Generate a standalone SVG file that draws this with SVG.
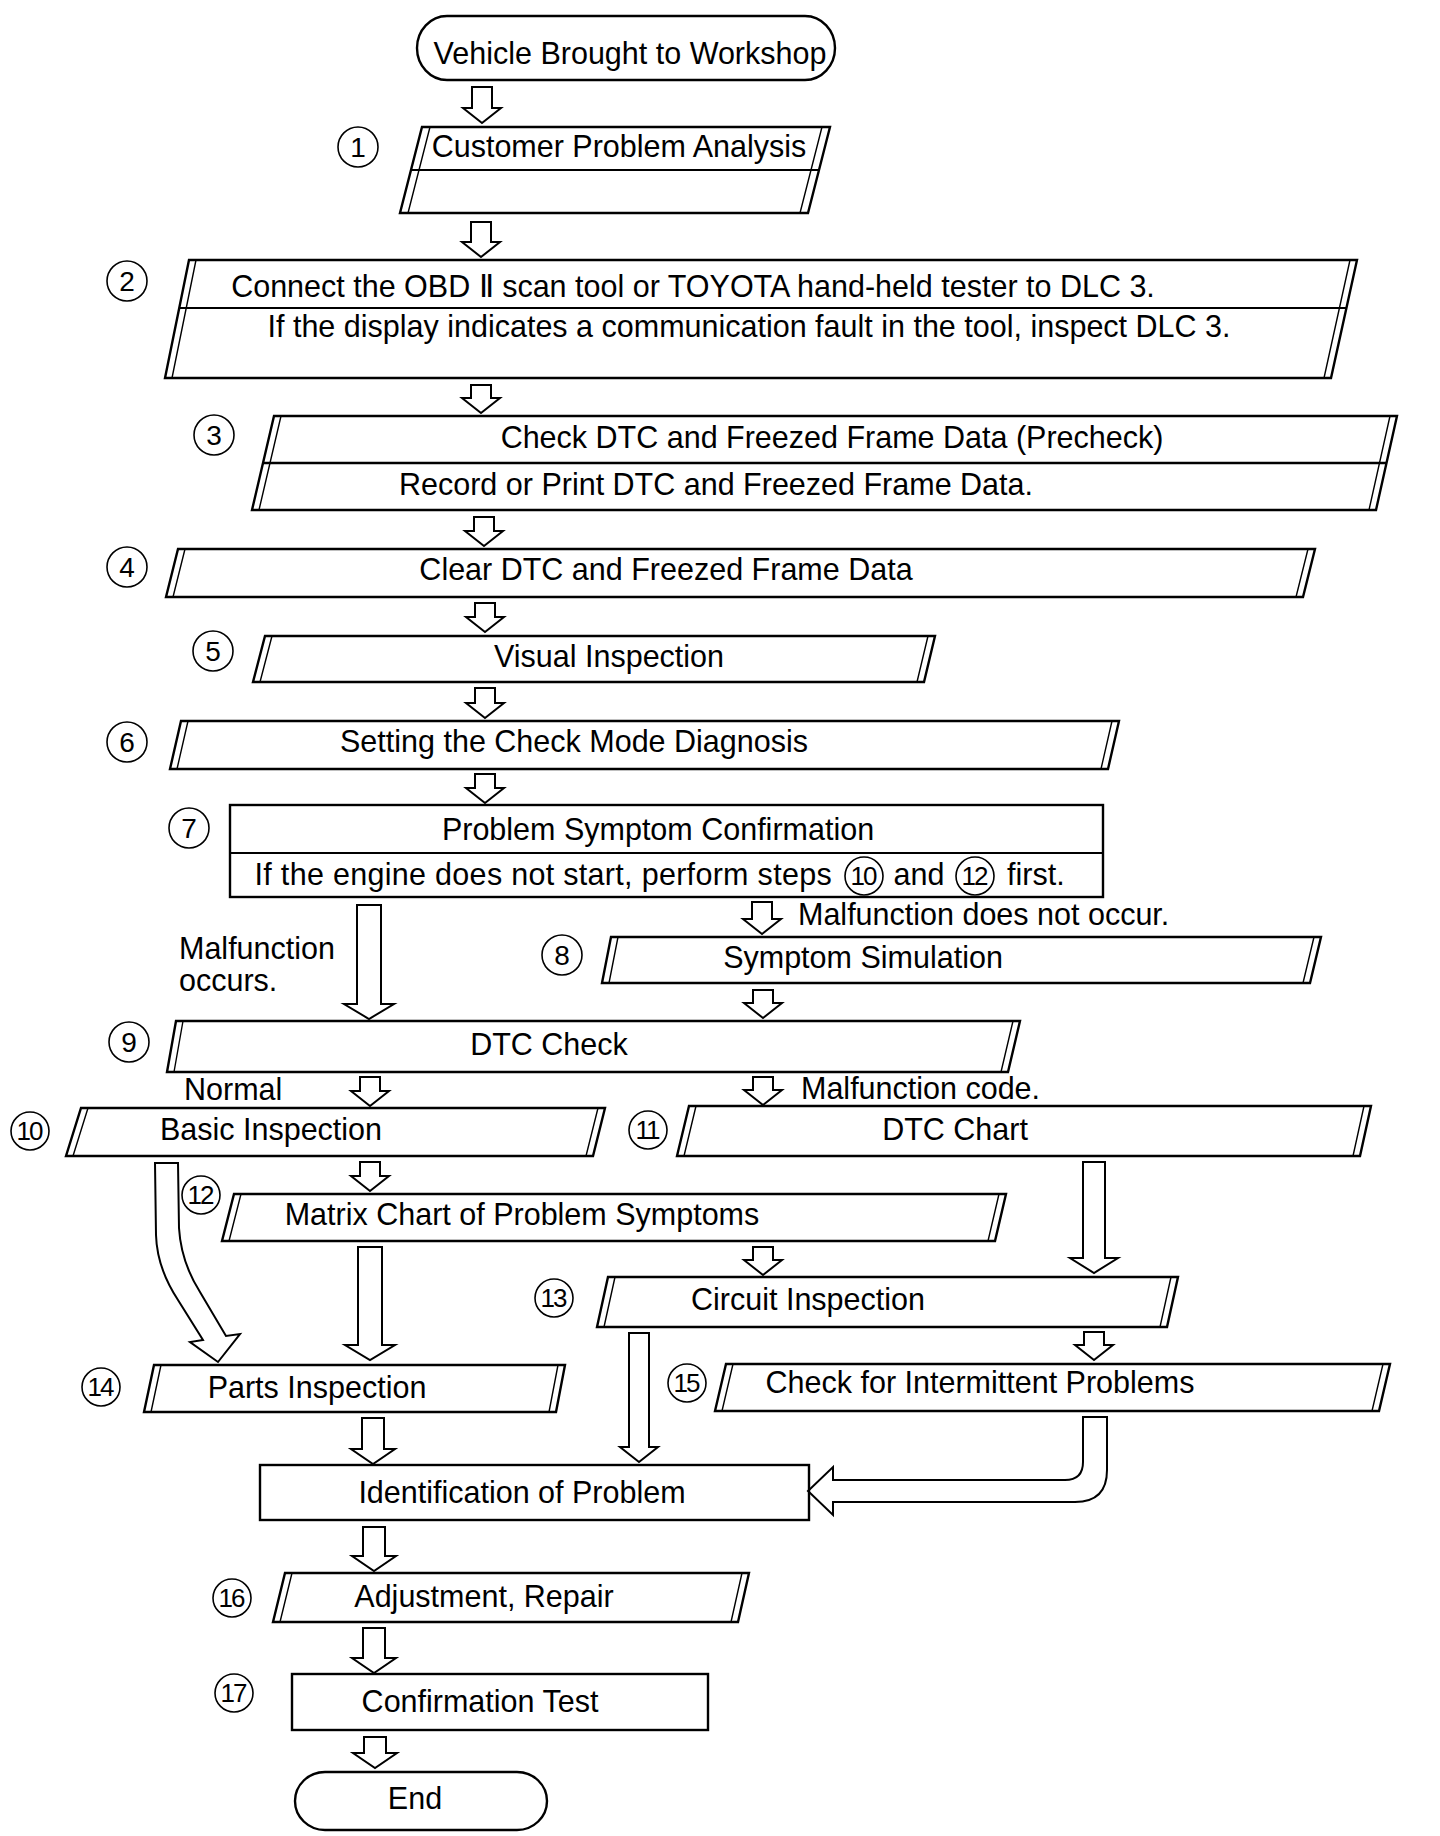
<svg xmlns="http://www.w3.org/2000/svg" width="1440" height="1836" viewBox="0 0 1440 1836">
<style>
.b{fill:none;stroke:#000;stroke-width:2.4;stroke-linejoin:miter}
.s{fill:none;stroke:#000;stroke-width:1.4}
.a{fill:#fff;stroke:#000;stroke-width:2;stroke-linejoin:miter}
.t{font-family:"Liberation Sans",Arial,sans-serif;font-size:30.5px;fill:#000}
.m{text-anchor:middle}
.c{fill:none;stroke:#000;stroke-width:1.6}
.n{font-family:"Liberation Sans",Arial,sans-serif;font-size:28px;fill:#000;text-anchor:middle}
.n2{font-family:"Liberation Sans",Arial,sans-serif;font-size:26px;fill:#000;text-anchor:middle;letter-spacing:-2px}
</style>
<rect width="1440" height="1836" fill="#fff"/>

<g id="connectors">
<path class="a" d="M472,87 H492 V108 H501 L482,123 L463,108 H472 Z"/>
<path class="a" d="M471,222 H491 V242 H500 L481,257 L462,242 H471 Z"/>
<path class="a" d="M471,385 H491 V398 H500 L481,413 L462,398 H471 Z"/>
<path class="a" d="M474,517 H494 V531 H503 L484,546 L465,531 H474 Z"/>
<path class="a" d="M475,603 H495 V617 H504 L485,632 L466,617 H475 Z"/>
<path class="a" d="M475,688 H495 V703 H504 L485,718 L466,703 H475 Z"/>
<path class="a" d="M475,774 H495 V788 H504 L485,803 L466,788 H475 Z"/>
<path class="a" d="M752,902 H772 V919 H781 L762,934 L743,919 H752 Z"/>
<path class="a" d="M357,905 H381 V1004 H394 L369,1019 L344,1004 H357 Z"/>
<path class="a" d="M753,990 H773 V1003 H782 L763,1018 L744,1003 H753 Z"/>
<path class="a" d="M360,1077 H380 V1091 H389 L370,1106 L351,1091 H360 Z"/>
<path class="a" d="M753,1077 H773 V1090 H782 L763,1105 L744,1090 H753 Z"/>
<path class="a" d="M360,1162 H380 V1176 H389 L370,1191 L351,1176 H360 Z"/>
<path class="a" d="M155,1163 L178,1163 L179,1228 Q181,1262 200,1292 L226,1336 L240,1334 L218,1362 L190,1342 L203,1340 L178,1300 Q157,1268 156,1235 Z"/>
<path class="a" d="M358,1247 H382 V1345 H395 L370,1360 L345,1345 H358 Z"/>
<path class="a" d="M753,1247 H773 V1260 H782 L763,1275 L744,1260 H753 Z"/>
<path class="a" d="M1083,1162 H1105 V1258 H1118 L1094,1273 L1070,1258 H1083 Z"/>
<path class="a" d="M629,1333 H649 V1447 H658 L639,1462 L620,1447 H629 Z"/>
<path class="a" d="M1084,1332 H1104 V1345 H1113 L1094,1360 L1075,1345 H1084 Z"/>
<path class="a" d="M362,1418 H384 V1449 H395 L373,1464 L351,1449 H362 Z"/>
<path class="a" d="M1083,1417 H1107 V1470 Q1107,1502 1075,1502 H833 V1515 L808,1491 L833,1467 V1480 H1065 Q1083,1480 1083,1462 Z"/>
<path class="a" d="M363,1527 H385 V1556 H396 L374,1571 L352,1556 H363 Z"/>
<path class="a" d="M363,1628 H385 V1658 H396 L374,1673 L352,1658 H363 Z"/>
<path class="a" d="M364,1737 H386 V1753 H397 L375,1768 L353,1753 H364 Z"/>
<text class="t" x="798" y="925">Malfunction does not occur.</text>
<text class="t" x="179" y="959">Malfunction</text>
<text class="t" x="179" y="991">occurs.</text>
<text class="t" x="184" y="1100">Normal</text>
<text class="t" x="801" y="1099">Malfunction code.</text>
</g>

<g id="start">
<rect class="b" x="417" y="16" width="418" height="64" rx="30" ry="32"/>
<text class="t m" x="630" y="64">Vehicle Brought to Workshop</text>
</g>

<g id="step1">
<circle class="c" cx="358" cy="147" r="20"/><text class="n" x="358" y="157">1</text>
<path class="b" d="M422,127 H830 L808,213 H400 Z"/>
<path class="s" d="M430,127 L408,213 M822,127 L800,213"/>
<path class="s" d="M411,170 H819" style="stroke-width:2"/>
<text class="t m" x="619" y="157">Customer Problem Analysis</text>
</g>

<g id="step2">
<circle class="c" cx="127" cy="281" r="20"/><text class="n" x="127" y="291">2</text>
<path class="b" d="M189,260 H1357 L1331,378 H165 Z"/>
<path class="s" d="M196,260 L172,378 M1350,260 L1324,378"/>
<path class="s" d="M179,308 H1347" style="stroke-width:2"/>
<text class="t m" x="693" y="297">Connect the OBD Ⅱ scan tool or TOYOTA hand-held tester to DLC 3.</text>
<text class="t m" x="749" y="337">If the display indicates a communication fault in the tool, inspect DLC 3.</text>
</g>

<g id="step3">
<circle class="c" cx="214" cy="435" r="20"/><text class="n" x="214" y="445">3</text>
<path class="b" d="M274,416 H1397 L1376,510 H252 Z"/>
<path class="s" d="M281,416 L259,510 M1390,416 L1369,510"/>
<path class="s" d="M263,463 H1386" style="stroke-width:2.4"/>
<text class="t m" x="832" y="448">Check DTC and Freezed Frame Data (Precheck)</text>
<text class="t m" x="716" y="495">Record or Print DTC and Freezed Frame Data.</text>
</g>

<g id="step4">
<circle class="c" cx="127" cy="567" r="20"/><text class="n" x="127" y="577">4</text>
<path class="b" d="M178,549 H1315 L1303,597 H166 Z"/>
<path class="s" d="M185,549 L173,597 M1308,549 L1296,597"/>
<text class="t m" x="666" y="580">Clear DTC and Freezed Frame Data</text>
</g>

<g id="step5">
<circle class="c" cx="213" cy="651" r="20"/><text class="n" x="213" y="661">5</text>
<path class="b" d="M265,636 H935 L924,682 H253 Z"/>
<path class="s" d="M272,636 L260,682 M928,636 L917,682"/>
<text class="t m" x="609" y="667">Visual Inspection</text>
</g>

<g id="step6">
<circle class="c" cx="127" cy="742" r="20"/><text class="n" x="127" y="752">6</text>
<path class="b" d="M181,721 H1119 L1108,769 H170 Z"/>
<path class="s" d="M188,721 L177,769 M1112,721 L1101,769"/>
<text class="t m" x="574" y="752">Setting the Check Mode Diagnosis</text>
</g>

<g id="step7">
<circle class="c" cx="189" cy="828" r="20"/><text class="n" x="189" y="838">7</text>
<rect class="b" x="230" y="805" width="873" height="92"/>
<path class="s" d="M230,853 H1103" style="stroke-width:2"/>
<text class="t m" x="658" y="840">Problem Symptom Confirmation</text>
<text class="t" x="832" y="885" text-anchor="end" letter-spacing="0.3">If the engine does not start, perform steps</text>
<circle class="c" cx="864" cy="876" r="19"/><text class="n2" x="863" y="885">10</text>
<text class="t m" x="919" y="885">and</text>
<circle class="c" cx="975" cy="876" r="19"/><text class="n2" x="974" y="885">12</text>
<text class="t" x="1007" y="885">first.</text>
</g>

<g id="step8">
<circle class="c" cx="562" cy="955" r="20"/><text class="n" x="562" y="965">8</text>
<path class="b" d="M611,937 H1321 L1310,983 H602 Z"/>
<path class="s" d="M618,937 L609,983 M1314,937 L1303,983"/>
<text class="t m" x="863" y="968">Symptom Simulation</text>
</g>

<g id="step9">
<circle class="c" cx="129" cy="1042" r="20"/><text class="n" x="129" y="1052">9</text>
<path class="b" d="M176,1021 H1020 L1008,1072 H167 Z"/>
<path class="s" d="M183,1021 L174,1072 M1013,1021 L1001,1072"/>
<text class="t m" x="549" y="1055">DTC Check</text>
</g>

<g id="step10">
<circle class="c" cx="30" cy="1131" r="19"/><text class="n2" x="29" y="1140">10</text>
<path class="b" d="M81,1108 H605 L593,1156 H66 Z"/>
<path class="s" d="M88,1108 L73,1156 M598,1108 L586,1156"/>
<text class="t m" x="271" y="1140">Basic Inspection</text>
</g>

<g id="step11">
<circle class="c" cx="648" cy="1130" r="19"/><text class="n2" x="647" y="1139">11</text>
<path class="b" d="M689,1106 H1371 L1360,1156 H677 Z"/>
<path class="s" d="M696,1106 L684,1156 M1364,1106 L1353,1156"/>
<text class="t m" x="955" y="1140">DTC Chart</text>
</g>

<g id="step12">
<circle class="c" cx="201" cy="1195" r="19"/><text class="n2" x="200" y="1204">12</text>
<path class="b" d="M234,1194 H1006 L995,1241 H222 Z"/>
<path class="s" d="M241,1194 L229,1241 M999,1194 L988,1241"/>
<text class="t m" x="522" y="1225">Matrix Chart of Problem Symptoms</text>
</g>

<g id="step13">
<circle class="c" cx="554" cy="1298" r="19"/><text class="n2" x="553" y="1307">13</text>
<path class="b" d="M608,1277 H1178 L1167,1327 H597 Z"/>
<path class="s" d="M615,1277 L604,1327 M1171,1277 L1160,1327"/>
<text class="t m" x="808" y="1310">Circuit Inspection</text>
</g>

<g id="step14">
<circle class="c" cx="101" cy="1387" r="19"/><text class="n2" x="100" y="1396">14</text>
<path class="b" d="M154,1365 H565 L556,1412 H144 Z"/>
<path class="s" d="M161,1365 L151,1412 M558,1365 L549,1412"/>
<text class="t m" x="317" y="1398">Parts Inspection</text>
</g>

<g id="step15">
<circle class="c" cx="687" cy="1383" r="19"/><text class="n2" x="686" y="1392">15</text>
<path class="b" d="M726,1364 H1390 L1379,1411 H715 Z"/>
<path class="s" d="M733,1364 L722,1411 M1383,1364 L1372,1411"/>
<text class="t m" x="980" y="1393">Check for Intermittent Problems</text>
</g>

<g id="identification">
<rect class="b" x="260" y="1465" width="549" height="55"/>
<text class="t m" x="522" y="1503">Identification of Problem</text>
</g>

<g id="step16">
<circle class="c" cx="232" cy="1598" r="19"/><text class="n2" x="231" y="1607">16</text>
<path class="b" d="M285,1573 H749 L738,1622 H273 Z"/>
<path class="s" d="M292,1573 L280,1622 M742,1573 L731,1622"/>
<text class="t m" x="484" y="1607">Adjustment, Repair</text>
</g>

<g id="step17">
<circle class="c" cx="234" cy="1693" r="19"/><text class="n2" x="233" y="1702">17</text>
<rect class="b" x="292" y="1674" width="416" height="56"/>
<text class="t m" x="480" y="1712">Confirmation Test</text>
</g>

<g id="end">
<rect class="b" x="295" y="1772" width="252" height="58" rx="30" ry="29"/>
<text class="t m" x="415" y="1809">End</text>
</g>
</svg>
